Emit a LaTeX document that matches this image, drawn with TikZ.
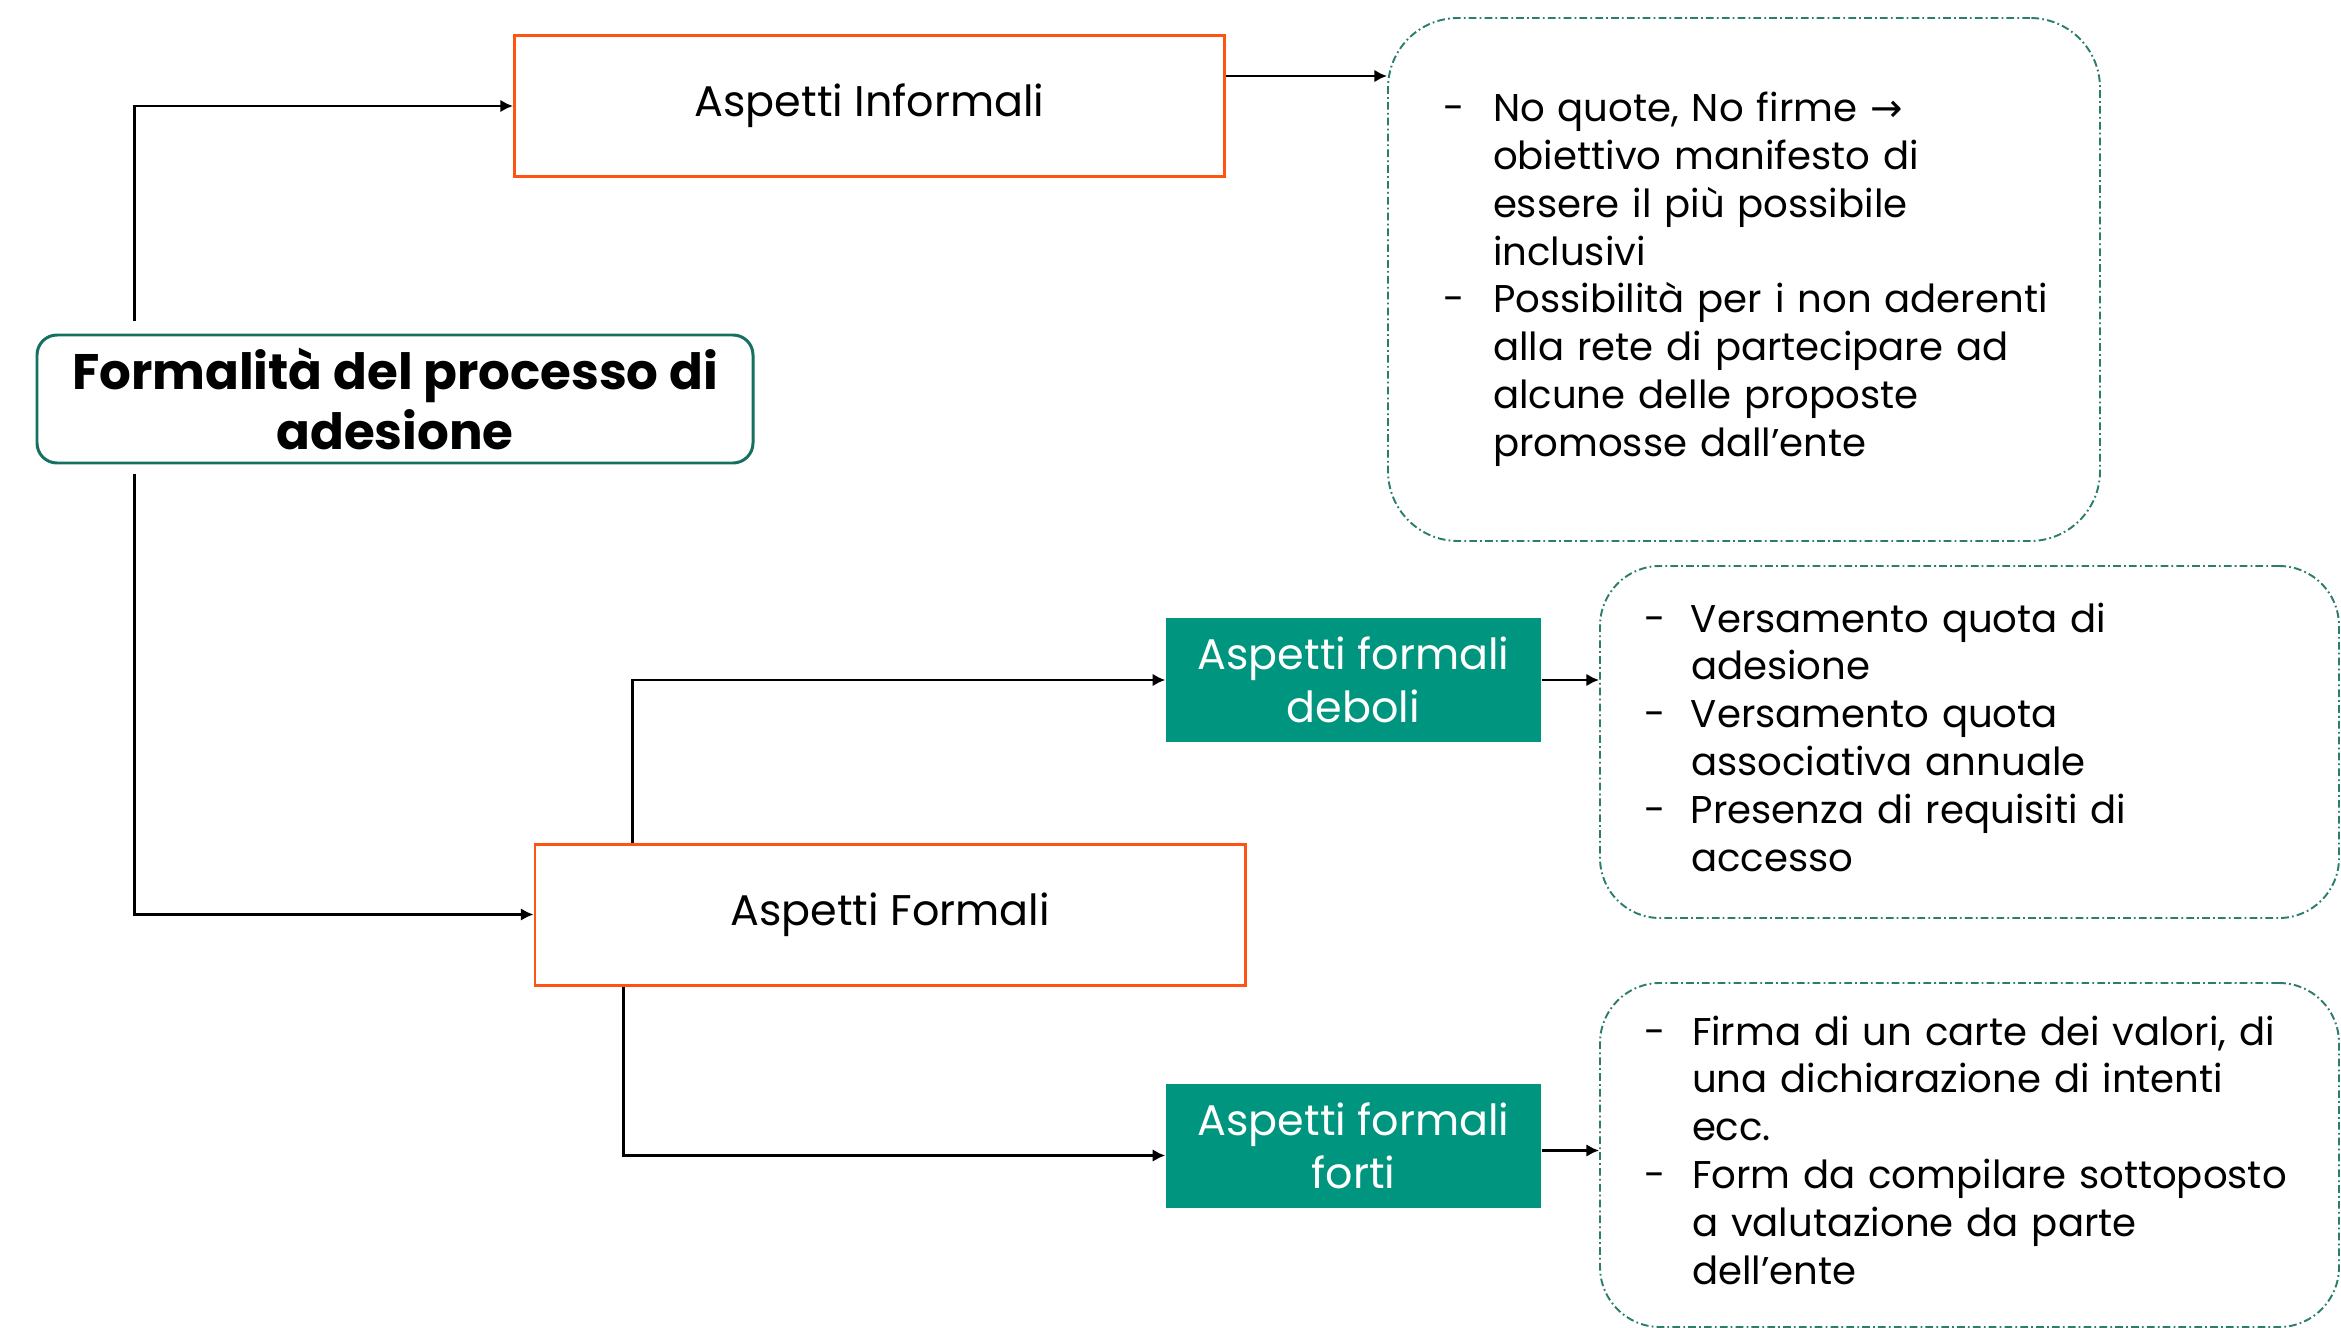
\documentclass[tikz,border=0pt]{standalone}
\usepackage{fontspec}
\setmainfont{Poppins}
\newfontfamily\simboli{DejaVu Sans}
\usepackage{tikz}
\usetikzlibrary{arrows.meta}

\definecolor{arancio}{HTML}{FF5314}
\definecolor{verdeacqua}{HTML}{00957F}
\definecolor{verdescuro}{HTML}{16705F}
\definecolor{tratteggio}{HTML}{2C7D6E}

\begin{document}
\begin{tikzpicture}
  [titolo/.style={draw=verdescuro, line width=0.85pt, rounded corners=0.2cm,
      minimum width=7.16cm, minimum height=1.28cm, align=center,
      font=\fontsize{14.2pt}{16.8pt}\selectfont\bfseries},
   aspetto/.style={draw=arancio, line width=0.85pt, minimum width=7.1cm,
      minimum height=1.41cm, font=\fontsize{12.2pt}{15pt}\selectfont},
   verde/.style={fill=verdeacqua, text=white, minimum width=3.75cm,
      minimum height=1.24cm, align=center, inner sep=0pt,
      font=\fontsize{12.2pt}{15pt}\selectfont},
   nota/.style={draw=tratteggio, line width=0.55pt,
      dash pattern=on 2.2pt off 0.9pt on 0.5pt off 0.9pt,
      align=left, font=\fontsize{11pt}{13.6pt}\selectfont},
%   edge from parent/.style={-latex, thick, draw},
   conn/.style={draw, line width=0.85pt, -{Latex[length=3.6pt,width=3.6pt]}} ]
 \useasboundingbox (0,0) rectangle (23.41,-13.28);

 \node[titolo] (main) at (3.95,-3.99) {Formalità del processo di\\adesione};
 \node[aspetto] (inf) at (8.695,-1.06) {Aspetti Informali};
 \node[aspetto] (form) at (8.90,-9.145) {Aspetti Formali};
 \node[verde] (deb) at (13.535,-6.80) {Aspetti formali\\deboli};
 \node[verde] (fort) at (13.535,-11.455) {Aspetti formali\\forti};

 \node[nota, rounded corners=0.7cm, inner xsep=0.55cm, text width=6.02cm,
       minimum height=5.23cm] (note1) at (17.44,-2.795)
   {\begin{tabular}{@{}p{0.5cm}@{}l@{}}
    - & No quote, No firme {\simboli →} \\
      & obiettivo manifesto di \\
      & essere il più possibile \\
      & inclusivi \\
    - & Possibilità per i non aderenti \\
      & alla rete di partecipare ad \\
      & alcune delle proposte \\
      & promosse dall’ente
    \end{tabular}};
 \node[nota, rounded corners=0.6cm, inner xsep=0.44cm, text width=6.51cm,
       minimum height=3.52cm] (note2) at (19.695,-7.42)
   {\begin{tabular}{@{}p{0.47cm}@{}l@{}}
    - & Versamento quota di \\
      & adesione \\
    - & Versamento quota \\
      & associativa annuale \\
    - & Presenza di requisiti di \\
      & accesso
    \end{tabular}};
 \node[nota, rounded corners=0.6cm, inner xsep=0.44cm, text width=6.51cm,
       minimum height=3.44cm] (note3) at (19.695,-11.55)
   {\begin{tabular}{@{}p{0.48cm}@{}l@{}}
    - & Firma di un carte dei valori, di \\
      & una dichiarazione di intenti \\
      & ecc. \\
    - & Form da compilare sottoposto \\
      & a valutazione da parte \\
      & dell’ente
    \end{tabular}};

 % rami
 \draw[conn] ([xshift=0.99cm,yshift=0.13cm]main.north west) |- (inf.west);
 \draw[conn] ([xshift=0.99cm,yshift=-0.1cm]main.south west) |- (form.west);
 \draw[conn] ([xshift=0.99cm]form.north west) |- (deb.west);
 \draw[conn] ([xshift=0.9cm]form.south west) |- ([yshift=-0.1cm]fort.west);
 % verso le note
 \draw[conn] ([yshift=0.3cm]inf.east) -- ([yshift=0.3cm]inf.east -| note1.west);
 \draw[conn] (deb.east) -- (deb.east -| note2.west);
 \draw[conn] ([yshift=-0.05cm]fort.east) -- ([yshift=-0.05cm]fort.east -| note3.west);
\end{tikzpicture}
\end{document}
